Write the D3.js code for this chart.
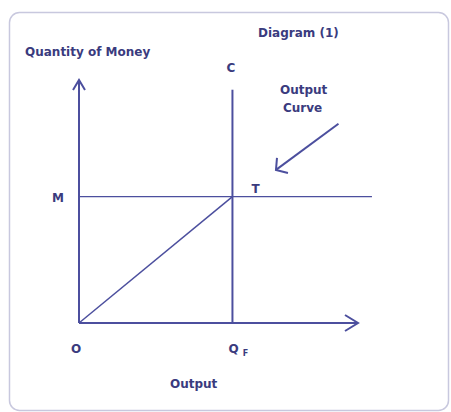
<!DOCTYPE html>
<html>
<head>
<meta charset="utf-8">
<script src="https://cdn.jsdelivr.net/npm/d3@7"></script>
<style>
  body { margin: 0; background: #fff; }
  text { font-family: "DejaVu Sans", Verdana, sans-serif; font-weight: bold; fill: #3a3b7e; }
</style>
</head>
<body>
<svg id="canvas" width="451" height="412"></svg>
<script>
(function () {

    // Data, in chart units (0..100 on each axis).
    var origin = [0, 0];
    var xAxisEnd = [100, 0];
    var yAxisEnd = [0, 100];
    var qF = 55;
    var mLevel = 52;
    var cTop = 96;
    var mLineEnd = 105;
    var outputLine = [[0, 0], [qF, mLevel]];
    var pointer = [[93, 82], [70.6, 63]];
    var labels = [
        { text: "M", x: 0, y: mLevel, dx: -27, dy: 5 },
        { text: "T", x: qF, y: mLevel, dx: 19, dy: -4 },
        { text: "C", x: qF, y: cTop, dx: -6, dy: -18 },
        { text: "O", x: 0, y: 0, dx: -8, dy: 30 }
    ];

    var lineColor = "#4c4f9e";

    var svg = d3.select("#canvas");

    // Frame.
    svg.append("rect")
        .attr("x", 9.5).attr("y", 12.5)
        .attr("width", 439).attr("height", 398)
        .attr("rx", 10)
        .attr("fill", "#fff")
        .attr("stroke", "#c8c8de")
        .attr("stroke-width", 1.5);

    var xScale = d3.scaleLinear().domain([0, 100]).range([79, 358]);
    var yScale = d3.scaleLinear().domain([0, 100]).range([323, 80]);

    var line = d3.line()
        .x(d => xScale(d[0]))
        .y(d => yScale(d[1]));

    var g = svg.append("g")
        .attr("fill", "none")
        .attr("stroke", lineColor)
        .attr("stroke-width", 2);

    // Axes.
    g.append("path").datum([origin, xAxisEnd]).attr("d", line);
    g.append("path").datum([origin, yAxisEnd]).attr("d", line);

    // Open arrowheads on axes.
    var xe = [xScale(xAxisEnd[0]), yScale(xAxisEnd[1])];
    g.append("path")
        .attr("d", "M" + (xe[0] - 13) + "," + (xe[1] - 8) + "L" + xe[0] + "," + xe[1] + "L" + (xe[0] - 13) + "," + (xe[1] + 8));
    var ye = [xScale(yAxisEnd[0]), yScale(yAxisEnd[1])];
    g.append("path")
        .attr("d", "M" + (ye[0] - 6) + "," + (ye[1] + 10) + "L" + ye[0] + "," + ye[1] + "L" + (ye[0] + 6) + "," + (ye[1] + 10));

    // C line, M line and output line.
    g.append("path").datum([[qF, 0], [qF, cTop]]).attr("d", line);
    g.append("path").datum([[0, mLevel], [mLineEnd, mLevel]])
        .attr("stroke-width", 1.3).attr("d", line);
    g.append("path").datum(outputLine).attr("stroke-width", 1.5).attr("d", line);

    // Pointer arrow.
    g.append("path").datum(pointer).attr("d", line);
    var tip = [xScale(pointer[1][0]), yScale(pointer[1][1])];
    g.append("path")
        .attr("d", "M" + (tip[0] + 1) + "," + (tip[1] - 12) + "L" + tip[0] + "," + tip[1] + "L" + (tip[0] + 12) + "," + (tip[1] + 3));

    // Point labels.
    svg.selectAll("text.pt")
        .data(labels)
        .enter().append("text")
        .attr("class", "pt")
        .attr("x", d => xScale(d.x) + d.dx)
        .attr("y", d => yScale(d.y) + d.dy)
        .attr("font-size", 12)
        .text(d => d.text);

    var qf = svg.append("text")
        .attr("x", xScale(qF) - 4)
        .attr("y", yScale(0) + 30)
        .attr("font-size", 12)
        .text("Q");
    qf.append("tspan").attr("font-size", 8).attr("dx", 4).attr("dy", 3).text("F");

    // Titles.
    svg.append("text").attr("x", 258).attr("y", 37).attr("font-size", 12).text("Diagram (1)");
    svg.append("text").attr("x", 25).attr("y", 56).attr("font-size", 12).text("Quantity of Money");
    svg.append("text").attr("x", 280).attr("y", 94).attr("font-size", 12).text("Output");
    svg.append("text").attr("x", 283).attr("y", 112).attr("font-size", 12).text("Curve");
    svg.append("text").attr("x", 170).attr("y", 388).attr("font-size", 12).text("Output");

})();
</script>
</body>
</html>
